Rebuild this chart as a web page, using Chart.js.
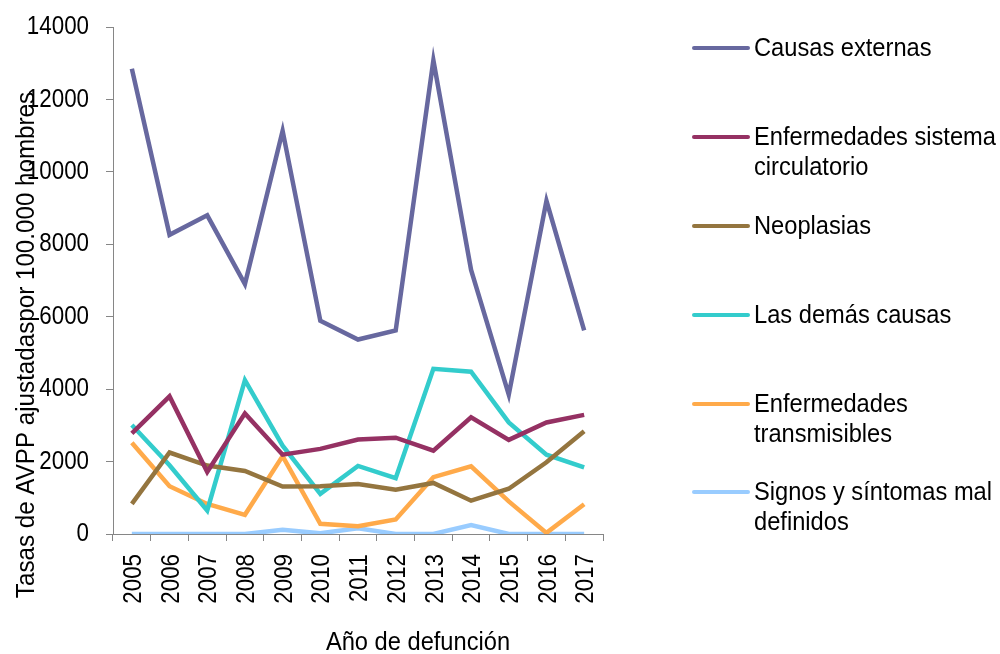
<!DOCTYPE html>
<html>
<head>
<meta charset="utf-8">
<script src="https://cdn.jsdelivr.net/npm/chart.js@4/dist/chart.umd.min.js"></script>
<style>
  html, body { margin: 0; padding: 0; background: #fff; }
  #wrap { width: 1000px; height: 654px; }
</style>
</head>
<body>
<div id="wrap"><canvas id="avppChart"></canvas></div>
<script>
// Data
const years = ['2005', '2006', '2007', '2008', '2009', '2010', '2011', '2012', '2013', '2014', '2015', '2016', '2017'];
const causasExternas = [12850, 8260, 8800, 6900, 11130, 5890, 5370, 5620, 13080, 7290, 3850, 9200, 5620];
const circulatorio = [2780, 3800, 1710, 3330, 2190, 2350, 2610, 2660, 2300, 3220, 2600, 3080, 3290];
const neoplasias = [830, 2250, 1890, 1740, 1310, 1320, 1380, 1220, 1410, 920, 1250, 1980, 2840];
const demasCausas = [3010, 1900, 650, 4250, 2440, 1110, 1880, 1540, 4560, 4480, 3080, 2190, 1840];
const transmisibles = [2520, 1320, 830, 530, 2150, 280, 215, 400, 1570, 1870, 900, 30, 820];
const signosSintomas = [0, 0, 0, 0, 115, 20, 160, 0, 0, 250, 0, 0, 0];
const yTicks = [0, 2000, 4000, 6000, 8000, 10000, 12000, 14000];

// the original uses a narrow sans, so text is squeezed horizontally
const FONT = '26px "Liberation Sans", Arial, sans-serif';
const SQUEEZE = 0.86;
const axisGrey = '#868686';

function line(label, data, color) {
    return {
        label: label,
        data: data,
        borderColor: color,
        backgroundColor: color,
        borderWidth: 4.5,
        pointRadius: 0,
        tension: 0,
        fill: false
    };
}

function squeezedText(ctx, text, x, y, align, angle, sx) {
    ctx.save();
    ctx.translate(x, y);
    if (angle) ctx.rotate(angle);
    ctx.scale(sx || SQUEEZE, 1);
    ctx.font = FONT;
    ctx.fillStyle = '#000';
    ctx.textAlign = align;
    ctx.textBaseline = 'middle';
    ctx.fillText(text, 0, 0);
    ctx.restore();
}

// tick labels drawn from the chart's own scales
const tickLabels = {
    id: 'tickLabels',
    afterDraw(chart) {
        const ctx = chart.ctx;
        const xs = chart.scales.x, ys = chart.scales.y;
        yTicks.forEach(v => {
            squeezedText(ctx, String(v), 89, ys.getPixelForValue(v), 'right', 0);
        });
        years.forEach((lab, i) => {
            squeezedText(ctx, lab, xs.getPixelForValue(i) + 2, ys.bottom + 20, 'right', -Math.PI / 2);
        });
    }
};

// Legend on the right, drawn by hand so wrapped labels sit like the original
const sideLegend = {
    id: 'sideLegend',
    afterDraw(chart) {
        const ctx = chart.ctx;
        const rows = [48, 137, 226, 315, 404, 492];
        chart.data.datasets.forEach((ds, i) => {
            const y = rows[i];
            ctx.save();
            ctx.strokeStyle = ds.borderColor;
            ctx.lineWidth = 4;
            ctx.lineCap = 'round';
            ctx.beginPath();
            ctx.moveTo(694, y);
            ctx.lineTo(748, y);
            ctx.stroke();
            ctx.restore();
            const parts = Array.isArray(ds.label) ? ds.label : [ds.label];
            parts.forEach((p, j) => squeezedText(ctx, p, 754, y + 1 + j * 30, 'left', 0, 0.91));
        });
    }
};

// Axis titles placed as in the reference (the y title overlaps the tick labels)
const axisTitles = {
    id: 'axisTitles',
    afterDraw(chart) {
        const ctx = chart.ctx;
        squeezedText(ctx, 'Año de defunción', 418, 643, 'center', 0, 0.91);
        squeezedText(ctx, 'Tasas de AVPP ajustadaspor 100.000 hombres', 27, 345, 'center', -Math.PI / 2, 0.93);
    }
};

const ctx = document.getElementById('avppChart').getContext('2d');
new Chart(ctx, {
    type: 'line',
    data: {
        labels: years,
        datasets: [
            line('Causas externas', causasExternas, '#67689f'),
            line(['Enfermedades sistema', 'circulatorio'], circulatorio, '#953163'),
            line('Neoplasias', neoplasias, '#94753f'),
            line('Las demás causas', demasCausas, '#33cccc'),
            line(['Enfermedades', 'transmisibles'], transmisibles, '#ffaa4a'),
            line(['Signos y síntomas mal', 'definidos'], signosSintomas, '#99ccff')
        ]
    },
    options: {
        responsive: true,
        maintainAspectRatio: false,
        animation: false,
        layout: {
            padding: { top: 27, right: 397, bottom: 0, left: 0 }
        },
        plugins: {
            legend: { display: false },
            tooltip: { enabled: false }
        },
        scales: {
            x: {
                type: 'category',
                offset: true,
                border: { color: axisGrey, width: 1 },
                grid: {
                    offset: true,
                    drawOnChartArea: false,
                    drawTicks: true,
                    tickLength: 7,
                    color: axisGrey
                },
                ticks: { display: false },
                afterFit(scale) { scale.height = 120; }
            },
            y: {
                min: 0,
                max: 14000,
                afterBuildTicks(scale) {
                    scale.ticks = yTicks.map(v => ({ value: v }));
                },
                border: { color: axisGrey, width: 1 },
                grid: {
                    drawOnChartArea: false,
                    drawTicks: true,
                    tickLength: 7,
                    color: axisGrey
                },
                ticks: { display: false },
                afterFit(scale) { scale.width = 113; }
            }
        }
    },
    plugins: [tickLabels, sideLegend, axisTitles]
});
</script>
</body>
</html>
